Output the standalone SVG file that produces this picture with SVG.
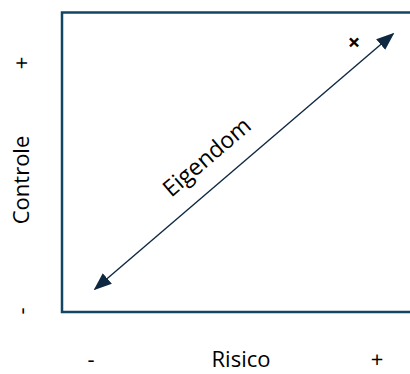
<svg xmlns="http://www.w3.org/2000/svg" width="410" height="374" viewBox="0 0 410 374">
<style>
.t{font-family:"Open Sans","Liberation Sans",sans-serif;fill:#000;}
.frame{fill:none;stroke:#134660;stroke-width:2.5;}
.link{stroke:#0e2841;stroke-width:1.4;fill:none;}
</style>
<defs>
<marker id="ah" viewBox="0 0 10 10" refX="9" refY="5" markerWidth="18" markerHeight="14" markerUnits="userSpaceOnUse" orient="auto-start-reverse" preserveAspectRatio="none">
<path d="M0,0 L10,5 L0,10 Z" fill="#0e2841"/>
</marker>
</defs>
<rect width="410" height="374" fill="#fff"/>
<g id="frame">
<path class="frame" d="M412,12.5 H62 V312 H412"/>
</g>
<g id="connectors">
<line class="link" x1="95" y1="289" x2="393" y2="34" marker-start="url(#ah)" marker-end="url(#ah)"/>
</g>
<g id="label-eigendom">
<text class="t" x="212" y="163" font-size="23" text-anchor="middle" transform="rotate(-40.6 212 163)">Eigendom</text>
</g>
<g id="marker-x">
<text class="t" x="354" y="50" font-size="22" font-weight="bold" text-anchor="middle">×</text>
</g>
<g id="axis-y">
<text class="t" x="29" y="180" font-size="22" text-anchor="middle" transform="rotate(-90 29 180)">Controle</text>
<text class="t" x="29" y="63" font-size="22" text-anchor="middle" transform="rotate(-90 29 63)">+</text>
<text class="t" x="29" y="311" font-size="22" text-anchor="middle" transform="rotate(-90 29 311)">-</text>
</g>
<g id="axis-x">
<text class="t" x="241" y="367" font-size="22" text-anchor="middle">Risico</text>
<text class="t" x="91" y="367" font-size="22" text-anchor="middle">-</text>
<text class="t" x="377" y="367" font-size="22" text-anchor="middle">+</text>
</g>
</svg>
